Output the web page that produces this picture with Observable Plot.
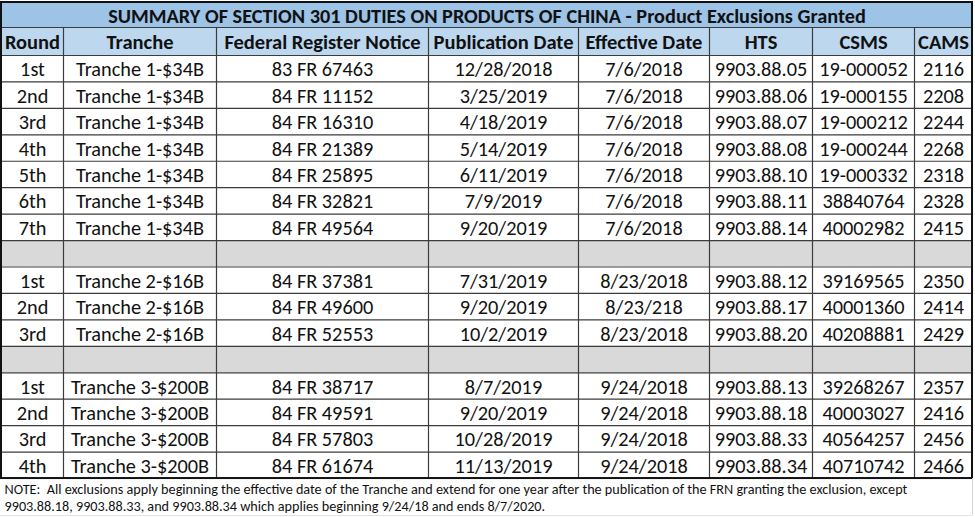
<!DOCTYPE html>
<html>
<head>
<meta charset="utf-8">
<script src="https://cdn.jsdelivr.net/npm/d3@7"></script>
<script src="https://cdn.jsdelivr.net/npm/@observablehq/plot@0.6"></script>
<style>
  html, body { margin: 0; padding: 0; background: #fff; }
  svg { display: block; }
</style>
</head>
<body>
<div id="chart"></div>
<script>
// ---- Data ----
const title = "SUMMARY OF SECTION 301 DUTIES ON PRODUCTS OF CHINA - Product Exclusions Granted";
const headers = ["Round", "Tranche", "Federal Register Notice", "Publication Date", "Effective Date", "HTS", "CSMS", "CAMS"];
const rounds = ["1st","2nd","3rd","4th","5th","6th","7th","","1st","2nd","3rd","","1st","2nd","3rd","4th"];
const tranches = ["Tranche 1-$34B","Tranche 1-$34B","Tranche 1-$34B","Tranche 1-$34B","Tranche 1-$34B","Tranche 1-$34B","Tranche 1-$34B","",
  "Tranche 2-$16B","Tranche 2-$16B","Tranche 2-$16B","",
  "Tranche 3-$200B","Tranche 3-$200B","Tranche 3-$200B","Tranche 3-$200B"];
const notices = ["83 FR 67463","84 FR 11152","84 FR 16310","84 FR 21389","84 FR 25895","84 FR 32821","84 FR 49564","",
  "84 FR 37381","84 FR 49600","84 FR 52553","",
  "84 FR 38717","84 FR 49591","84 FR 57803","84 FR 61674"];
const pubDates = ["12/28/2018","3/25/2019","4/18/2019","5/14/2019","6/11/2019","7/9/2019","9/20/2019","",
  "7/31/2019","9/20/2019","10/2/2019","",
  "8/7/2019","9/20/2019","10/28/2019","11/13/2019"];
const effDates = ["7/6/2018","7/6/2018","7/6/2018","7/6/2018","7/6/2018","7/6/2018","7/6/2018","",
  "8/23/2018","8/23/218","8/23/2018","",
  "9/24/2018","9/24/2018","9/24/2018","9/24/2018"];
const hts = ["9903.88.05","9903.88.06","9903.88.07","9903.88.08","9903.88.10","9903.88.11","9903.88.14","",
  "9903.88.12","9903.88.17","9903.88.20","",
  "9903.88.13","9903.88.18","9903.88.33","9903.88.34"];
const csms = ["19-000052","19-000155","19-000212","19-000244","19-000332","38840764","40002982","",
  "39169565","40001360","40208881","",
  "39268267","40003027","40564257","40710742"];
const cams = ["2116","2208","2244","2268","2318","2328","2415","",
  "2350","2414","2429","",
  "2357","2416","2456","2466"];
const noteLines = [
  "NOTE:\u00a0 All exclusions apply beginning the effective date of the Tranche and extend for one year after the publication of the FRN granting the exclusion, except",
  "9903.88.18, 9903.88.33, and 9903.88.34 which applies beginning 9/24/18 and ends 8/7/2020."
];

// ---- Layout ----
const W = 975, H = 517;
const colWidths = [62, 153, 212, 150, 131, 103, 102, 58];
const tableLeft = 1, tableTop = 2, titleH = 25, headerH = 28, rowH = 26.44;
const noteTop = 480, noteLineH = 17, noteLeft = 4;
const FONT = "Carlito, Calibri, Lato, sans-serif";

const colEdges = [tableLeft];
colWidths.forEach(w => colEdges.push(colEdges[colEdges.length - 1] + w));
const tableRight = colEdges[colEdges.length - 1];
const headerTop = tableTop + titleH;
const bodyTop = headerTop + headerH;
const nRows = rounds.length;
const rowTop = i => bodyTop + i * rowH;
const tableBottom = rowTop(nRows);

const columns = [rounds, tranches, notices, pubDates, effDates, hts, csms, cams];

// body cells
const cells = [];
for (let r = 0; r < nRows; r++) {
  const blank = rounds[r] === "";
  for (let c = 0; c < columns.length; c++) {
    cells.push({x1: colEdges[c], x2: colEdges[c + 1], y1: rowTop(r), y2: rowTop(r + 1),
      text: columns[c][r], blank});
  }
}
const headerCells = headers.map((h, c) => ({x1: colEdges[c], x2: colEdges[c + 1], y1: headerTop, y2: bodyTop, text: h}));

const hLines = [headerTop, bodyTop, ...d3.range(1, nRows).map(rowTop)];
const vLines = colEdges.slice(1, -1);
const notes = noteLines.map((t, i) => ({t, y: noteTop + noteLineH * (i + 0.5)}));

const chart = Plot.plot({
  width: W, height: H, margin: 0,
  x: {domain: [0, W], range: [0, W], axis: null},
  y: {domain: [0, H], range: [0, H], axis: null},
  style: {background: "#fff"},
  marks: [
    // title band
    Plot.rect([{}], {x1: tableLeft, x2: tableRight, y1: tableTop, y2: headerTop, fill: "#9DC3E6"}),
    // header band
    Plot.rect(headerCells, {x1: "x1", x2: "x2", y1: "y1", y2: "y2", fill: "#BDD7EE"}),
    // body
    Plot.rect(cells, {x1: "x1", x2: "x2", y1: "y1", y2: "y2", fill: d => d.blank ? "#D9D9D9" : "#FFFFFF"}),
    // grid lines
    Plot.ruleY(hLines, {y: d => d, x1: tableLeft, x2: tableRight, stroke: "#3c3c3c", strokeWidth: 1.2}),
    Plot.ruleX(vLines, {x: d => d, y1: headerTop, y2: tableBottom, stroke: "#3c3c3c", strokeWidth: 1.2}),
    // outer frame
    Plot.rect([{}], {x1: tableLeft, x2: tableRight, y1: tableTop, y2: tableBottom, fill: "none", stroke: "#111", strokeWidth: 2}),
    // faint page edge around the note
    Plot.ruleX([tableRight], {y1: tableBottom, y2: H - 2, stroke: "#d4d4d4"}),
    Plot.ruleY([H - 2], {x1: 0, x2: tableRight, stroke: "#e2e2e2"}),
    // title text
    Plot.text([title], {x: (tableLeft + tableRight) / 2, y: (tableTop + headerTop) / 2 + 1, text: d => d,
      fontSize: 20.3, fontWeight: "bold", fontFamily: FONT, fill: "#111"}),
    // header text
    Plot.text(headerCells, {x: d => (d.x1 + d.x2) / 2, y: d => (d.y1 + d.y2) / 2 + 1, text: "text",
      fontSize: 20.5, fontWeight: "bold", fontFamily: FONT, fill: "#111"}),
    // body text
    Plot.text(cells.filter(d => d.text), {x: d => (d.x1 + d.x2) / 2, y: d => (d.y1 + d.y2) / 2 + 1, text: "text",
      fontSize: 20.3, fontFamily: FONT, fill: "#111"}),
    // note
    Plot.text(notes, {x: noteLeft, y: "y", text: "t", textAnchor: "start",
      fontSize: 14.2, fontFamily: FONT, fill: "#111"})
  ]
});
document.getElementById("chart").append(chart);
</script>
</body>
</html>
